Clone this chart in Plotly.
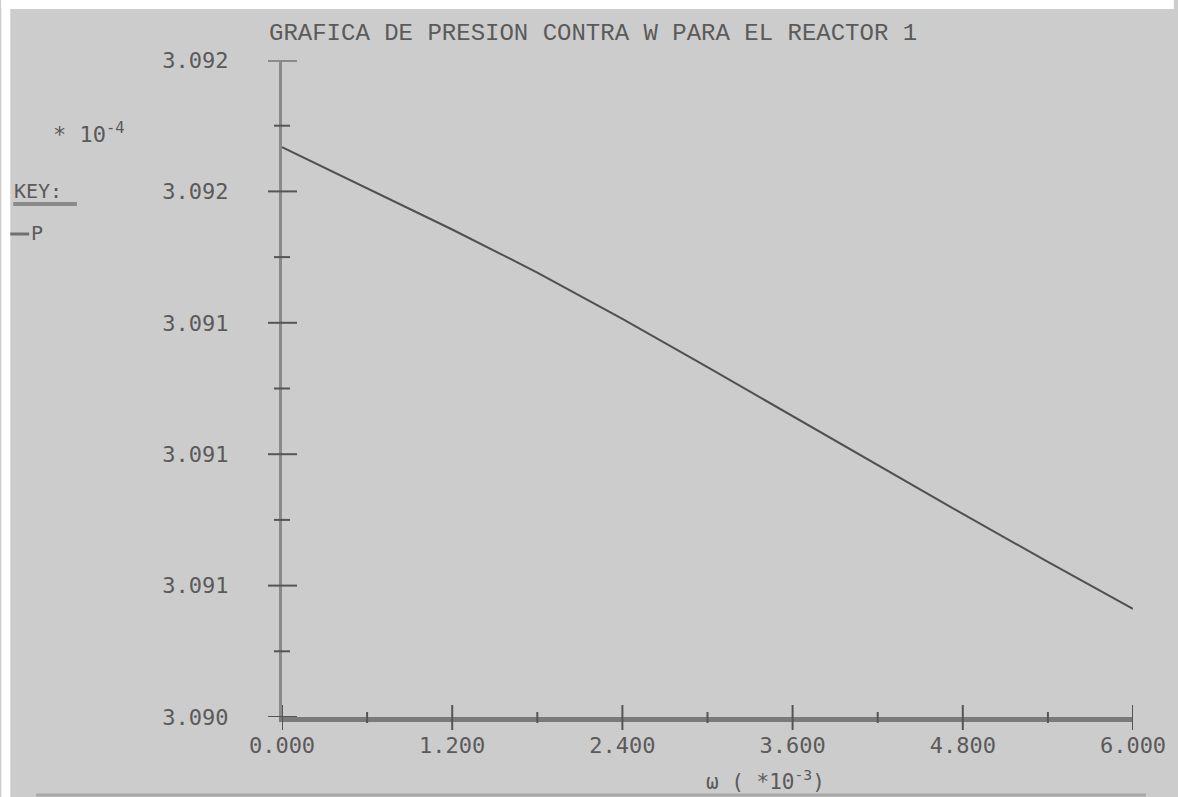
import plotly.graph_objects as go

# ---------------- data ----------------
w_vals = [0.0, 0.6, 1.2, 1.8, 2.4, 3.0, 3.6, 4.2, 4.8, 5.4, 6.0]          # omega (x10^-3)
p_vals = [3.091935, 3.091810, 3.091684, 3.091553, 3.091412, 3.091265,
          3.091116, 3.090967, 3.090818, 3.090672, 3.090529]                # P (x10^-4)

x_major = [0.0, 1.2, 2.4, 3.6, 4.8, 6.0]
x_major_text = ["0.000", "1.200", "2.400", "3.600", "4.800", "6.000"]
x_minor = [0.6, 1.8, 3.0, 4.2, 5.4]

y_major = [3.0902, 3.0906, 3.0910, 3.0914, 3.0918, 3.0922]
y_major_text = ["3.090", "3.091", "3.091", "3.091", "3.092", "3.092"]
y_minor = [3.0904, 3.0908, 3.0912, 3.0916, 3.0920]

title_text = "GRAFICA DE PRESION CONTRA W PARA EL REACTOR 1"
key_title = "KEY:"
key_entry = "P"
y_scale_text = "* 10<sup>-4</sup>"
x_title_text = "ω ( *10<sup>-3</sup>)"

# ---------------- layout geometry ----------------
W, H = 1178, 797
L, R, T, B = 282, 1137, 60, 717


def px(x):
    return (x - L) / (R - L)


def py(y):
    return (B - y) / (B - T)


TXT = "#5a5a5a"
MONO = "DejaVu Sans Mono, Liberation Mono, monospace"

fig = go.Figure()
fig.add_trace(go.Scatter(x=w_vals, y=p_vals, mode="lines",
                         line=dict(color="#505050", width=2),
                         showlegend=False, hoverinfo="skip"))

shapes = []
# white strips at top and left
shapes.append(dict(type="rect", xref="paper", yref="paper", x0=px(0), x1=px(W),
                   y0=py(9), y1=py(0), fillcolor="white", line=dict(width=0), layer="below"))
shapes.append(dict(type="rect", xref="paper", yref="paper", x0=px(0), x1=px(9),
                   y0=py(H), y1=py(0), fillcolor="white", line=dict(width=0), layer="below"))
# light line at bottom
shapes.append(dict(type="line", xref="paper", yref="paper", x0=px(35), x1=px(1150),
                   y0=py(795), y1=py(795), line=dict(color="#a8a8a8", width=3)))
# key underline and key line sample
shapes.append(dict(type="line", xref="paper", yref="paper", x0=px(12), x1=px(76),
                   y0=py(204), y1=py(204), line=dict(color="#8a8a8a", width=4)))
shapes.append(dict(type="line", xref="paper", yref="paper", x0=px(9), x1=px(28),
                   y0=py(234), y1=py(234), line=dict(color="#707070", width=3)))

# crossing ticks on y axis
for i, v in enumerate(y_major):
    thick = (i == len(y_major) - 1)
    shapes.append(dict(type="line", xref="paper", yref="y", xsizemode="pixel", xanchor=0,
                       x0=-14, x1=15, y0=v, y1=v,
                       line=dict(color="#8a8a8a" if thick else "#555555", width=4 if thick else 2)))
for v in y_minor:
    shapes.append(dict(type="line", xref="paper", yref="y", xsizemode="pixel", xanchor=0,
                       x0=-8, x1=8, y0=v, y1=v, line=dict(color="#555555", width=2)))
# crossing ticks on x axis
for v in x_major:
    shapes.append(dict(type="line", xref="x", yref="paper", ysizemode="pixel", yanchor=0,
                       y0=-13, y1=12, x0=v, x1=v, line=dict(color="#555555", width=2)))
for v in x_minor:
    shapes.append(dict(type="line", xref="x", yref="paper", ysizemode="pixel", yanchor=0,
                       y0=-6, y1=5, x0=v, x1=v, line=dict(color="#555555", width=2)))

annotations = [
    dict(text=title_text, xref="paper", yref="paper", x=px(594), y=py(33),
         xanchor="center", yanchor="middle", showarrow=False,
         font=dict(family="Liberation Mono, monospace", size=24, color=TXT)),
    dict(text=y_scale_text, xref="paper", yref="paper", x=px(50), y=py(133),
         xanchor="left", yanchor="middle", showarrow=False,
         font=dict(family=MONO, size=22, color=TXT)),
    dict(text=key_title, xref="paper", yref="paper", x=px(11), y=py(191),
         xanchor="left", yanchor="middle", showarrow=False,
         font=dict(family=MONO, size=20, color=TXT)),
    dict(text=key_entry, xref="paper", yref="paper", x=px(28), y=py(233),
         xanchor="left", yanchor="middle", showarrow=False,
         font=dict(family=MONO, size=20, color=TXT)),
    dict(text=x_title_text, xref="paper", yref="paper", x=px(768), y=py(780),
         xanchor="center", yanchor="middle", showarrow=False,
         font=dict(family=MONO, size=21, color=TXT)),
]

fig.update_layout(
    width=W, height=H,
    margin=dict(l=L, r=W - R, t=T, b=H - B, pad=0),
    paper_bgcolor="#cccccc", plot_bgcolor="#cccccc",
    shapes=shapes, annotations=annotations,
    xaxis=dict(range=[0, 6], tickvals=x_major, ticktext=x_major_text,
               showgrid=False, zeroline=False, ticks="", ticklabelstandoff=5,
               showline=True, linecolor="#7a7a7a", linewidth=5,
               tickfont=dict(family=MONO, size=22, color=TXT)),
    yaxis=dict(range=[3.0902, 3.0922], tickvals=y_major, ticktext=y_major_text,
               showgrid=False, zeroline=False, ticks="", ticklabelstandoff=46,
               showline=True, linecolor="#8a8a8a", linewidth=3,
               tickfont=dict(family=MONO, size=22, color=TXT)),
)

fig.write_html("out.html")
